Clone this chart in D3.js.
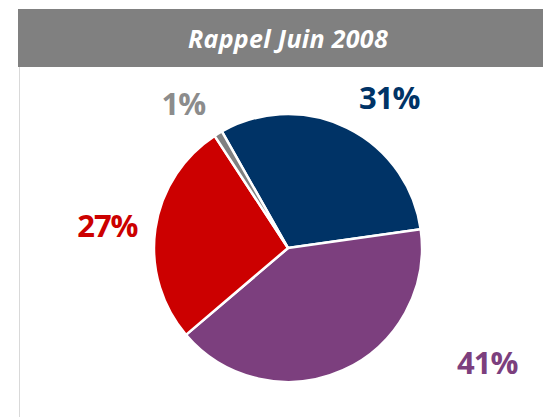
<!DOCTYPE html>
<html>
<head>
<meta charset="utf-8">
<script src="https://cdn.jsdelivr.net/npm/d3@7"></script>
<style>
  body { margin: 0; background: #fff; }
  svg { display: block; }
</style>
</head>
<body>
<div id="chart"></div>
<script>
// Data
const categories = ["A", "B", "C", "D"];
const values = [31, 41, 27, 1];
const labels = ["31%", "41%", "27%", "1%"];
const colors = ["#003366", "#7c3f7e", "#cc0000", "#808080"];
const labelColors = ["#003366", "#7c3f7e", "#cc0000", "#8c8c8c"];
const title = "Rappel Juin 2008";

const width = 543, height = 417;
const font = "'Open Sans', sans-serif";

const svg = d3.select("#chart").append("svg")
    .attr("width", width)
    .attr("height", height);

// Header bar
svg.append("rect")
    .attr("x", 18)
    .attr("y", 9)
    .attr("width", width - 18)
    .attr("height", 58)
    .attr("fill", "#808080");

svg.append("text")
    .attr("x", 288)
    .attr("y", 48)
    .attr("text-anchor", "middle")
    .attr("fill", "#fff")
    .style("font-family", font)
    .style("font-weight", "bold")
    .style("font-style", "italic")
    .style("font-size", "25px")
    .style("letter-spacing", "0.3px")
    .text(title);

// Left frame line
svg.append("line")
    .attr("x1", 19.5).attr("x2", 19.5)
    .attr("y1", 67).attr("y2", height)
    .attr("stroke", "#d9d9d9")
    .attr("stroke-width", 1);

// Pie
const cx = 288, cy = 248, radius = 134;
const start = -29.6 * Math.PI / 180;

const pie = d3.pie()
    .sort(null)
    .value(d => d)
    .startAngle(start)
    .endAngle(start + 2 * Math.PI);

const arc = d3.arc()
    .innerRadius(0)
    .outerRadius(radius);

const g = svg.append("g")
    .attr("transform", `translate(${cx},${cy})`);

const arcs = pie(values);

g.selectAll("path")
    .data(arcs)
    .enter().append("path")
    .attr("d", arc)
    .attr("fill", (d, i) => colors[i])
    .attr("stroke", "#fff")
    .attr("stroke-width", 2.5)
    .attr("stroke-linejoin", "round");

// Labels sit outside the pie; Excel pushed them around, so angle (deg) and distance per label
const labelAngle = [34, 120, -83, -36];
const labelRadius = [181, 230, 182, 178];

g.selectAll(".label")
    .data(arcs)
    .enter().append("text")
    .attr("class", "label")
    .attr("transform", (d, i) => {
        const a = labelAngle[i] * Math.PI / 180;
        const r = labelRadius[i];
        return `translate(${Math.sin(a) * r},${-Math.cos(a) * r})`;
    })
    .attr("dy", "0.36em")
    .attr("text-anchor", "middle")
    .attr("fill", (d, i) => labelColors[i])
    .style("font-family", font)
    .style("font-weight", "bold")
    .style("font-size", "31px")
    .style("letter-spacing", "-1px")
    .text((d, i) => labels[i]);
</script>
</body>
</html>
